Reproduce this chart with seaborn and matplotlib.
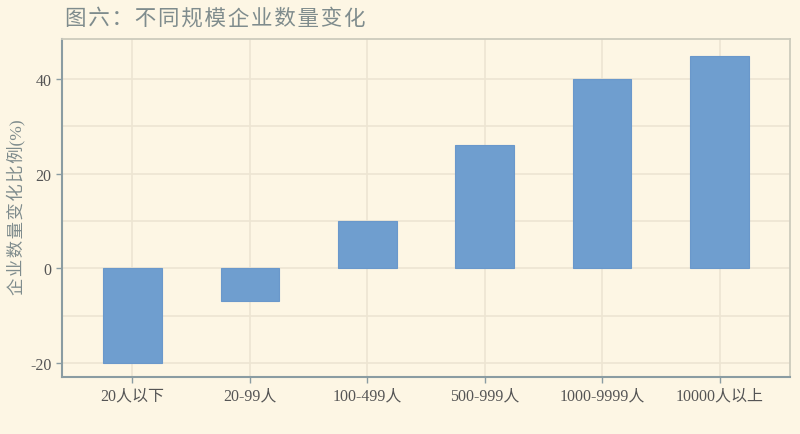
import matplotlib
matplotlib.use("Agg")
import matplotlib.pyplot as plt
import seaborn as sns
import pandas as pd

categories = ["20人以下", "20-99人", "100-499人", "500-999人", "1000-9999人", "10000人以上"]
values = [-20, -7, 10, 26, 40, 45]
yticks = [-20, 0, 20, 40]
title = "图六：不同规模企业数量变化"
ylabel = "企业数量变化比例(%)"

sns.set_theme(style="white")
fam = ["Liberation Serif", "Noto Sans CJK SC", "DejaVu Sans"]
plt.rcParams["font.family"] = fam
plt.rcParams["axes.unicode_minus"] = False

bg = "#fdf6e4"
fig = plt.figure(figsize=(8, 4.35), dpi=100, facecolor=bg)
ax = fig.add_axes([0.0775, 0.131, 0.91, 0.777])
ax.set_facecolor(bg)

df = pd.DataFrame({"cat": categories, "val": values})
sns.barplot(data=df, x="cat", y="val", color="#6f9ecf", width=0.5,
            edgecolor="#6a98cb", linewidth=0.8, saturation=1, ax=ax, zorder=3)

ax.set_xlim(-0.6, 5.6)
ax.set_ylim(-23, 48.5)
ax.set_yticks(yticks)
ax.set_yticks([-10, 10, 30], minor=True)
ax.grid(True, which="both", axis="y", color="#ede5d2", linewidth=1.2, zorder=0)
ax.grid(True, which="major", axis="x", color="#ede5d2", linewidth=1.2, zorder=0)
ax.set_axisbelow(True)

for s in ["left", "bottom"]:
    ax.spines[s].set_color("#8a9ca2")
    ax.spines[s].set_linewidth(1.5)
for s in ["top", "right"]:
    ax.spines[s].set_color("#cdcbbd")
    ax.spines[s].set_linewidth(1.3)

ax.tick_params(axis="both", which="major", length=4, width=1, color="#8a9ca2",
               labelsize=11.5, labelcolor="#555555", bottom=True, left=True)
ax.tick_params(axis="y", which="minor", length=0)
ax.set_xlabel("")
hs = "\u200a"
ax.set_ylabel(hs.join(ylabel[:-3]) + ylabel[-3:], fontsize=12.5, color="#7f8c8d")
ax.yaxis.label.set_verticalalignment("center")
ax.yaxis.set_label_coords(-0.063, 0.505)

fig.text(0.081, 0.955, hs.join(title), fontsize=15.5, color="#7f8c8d",
         ha="left", va="center")

fig.savefig("out.png", dpi=100, facecolor=bg)
